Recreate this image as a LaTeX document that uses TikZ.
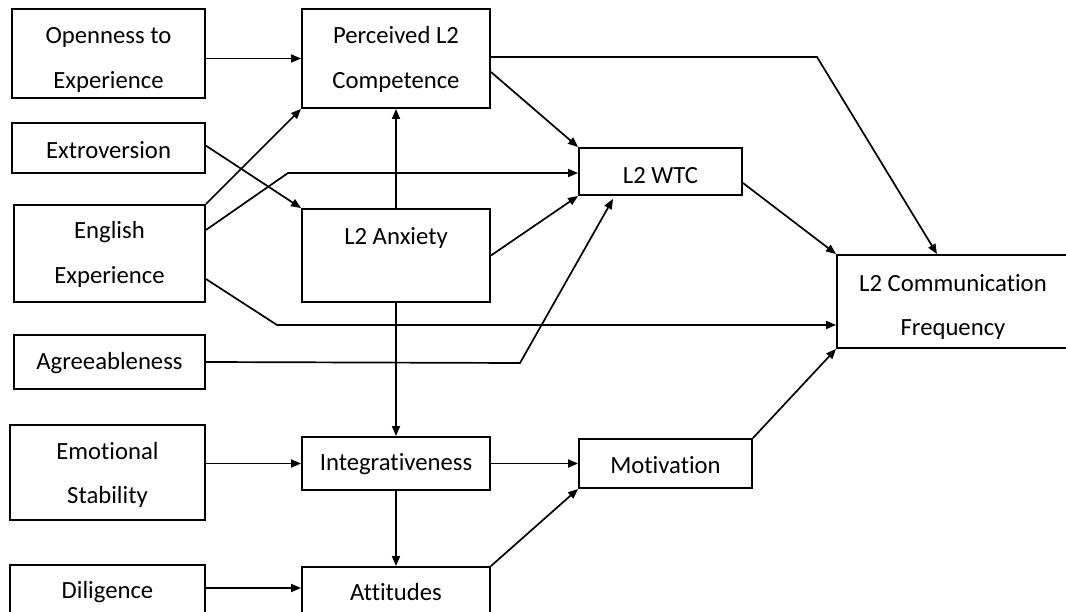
\documentclass[tikz,border=0pt]{standalone}
\usepackage{fontspec}
\setmainfont{Carlito}[Ligatures=CommonOff]
\usetikzlibrary{arrows.meta}
\begin{document}
\begin{tikzpicture}[x=1pt,y=-1pt,
  box/.style={draw, line width=1.9pt, inner sep=0pt, align=center,
    font=\fontsize{24.7}{44.5}\selectfont, text depth=5pt},
  arr/.style={line width=1.7pt, -{Triangle[length=10pt,width=8pt]}}]
\useasboundingbox (0,0) rectangle (1066,612);
\clip (0,0) rectangle (1066,612);
\fill[white] (0,0) rectangle (1066,612);

% left column: personality and experience variables
\node[box, minimum width=193pt, minimum height=89pt, text height=75pt] (open)  at (108.5,53.5) {Openness to\\Experience};
\node[box, minimum width=193pt, minimum height=50pt, text height=26pt] (extro) at (108.5,148)  {Extroversion};
\node[box, minimum width=191pt, minimum height=97pt, text height=65pt] (eng)   at (109.5,253.5) {English\\Experience};
\node[box, minimum width=191pt, minimum height=54pt, text height=20pt] (agree) at (109.5,362)  {Agreeableness};
\node[box, minimum width=195pt, minimum height=95pt, text height=67pt] (emo)   at (107.5,472.5) {Emotional\\Stability};
\node[box, minimum width=195pt, minimum height=55pt, text height=17pt] (dili)  at (107.5,592.5) {Diligence};

% middle column
\node[box, minimum width=188pt, minimum height=99pt, text height=65pt] (perc)  at (396,58.5)  {Perceived L2\\Competence};
\node[box, minimum width=188pt, minimum height=93pt, text height=5pt, text depth=26pt] (anx) at (396,255.5) {L2 Anxiety};
\node[box, minimum width=188pt, minimum height=53pt, text height=19pt] (integ) at (396,463.5) {Integrativeness};
\node[box, minimum width=188pt, minimum height=53pt, text height=19pt] (att)   at (396,593.5) {Attitudes};

% right part
\node[box, minimum width=163pt, minimum height=47pt, text height=29pt] (wtc)   at (660.5,171.5) {L2 WTC};
\node[box, minimum width=173pt, minimum height=49pt, text height=25pt] (mot)   at (665.5,463.5) {Motivation};
\node[box, minimum width=232pt, minimum height=93pt, text height=74pt] (comm)  at (953,301.5)  {L2 Communication\\Frequency};

% bend points of the routed paths
\coordinate (b1) at (288,173);
\coordinate (b2) at (277,325);
\coordinate (b3) at (817,57);
\coordinate (b4) at (520,363);

% paths
\draw[arr] (open.east |- perc.west) -- (perc.west);
\draw[arr] ([yshift=2.3pt]extro.east) -- (anx.north west);
\draw[arr] (eng.north east) -- (perc.south west);
\draw[arr] ([yshift=23.5pt]eng.east) -- (b1) -- (b1 -| wtc.west);
\draw[arr] ([yshift=-25.5pt]eng.east) -- (b2) -- (b2 -| comm.west);
\draw[arr] (anx.north) -- (perc.south);
\draw[arr] (anx.east) -- (wtc.south west);
\draw[arr] ([yshift=-13.5pt]perc.east) -- (wtc.north west);
\draw[arr] ([yshift=1.5pt]perc.east) -- (b3) -- ([xshift=-16pt]comm.north);
\draw[arr] ([yshift=-11.5pt]wtc.east) -- (comm.north west);
\draw[arr] (agree.east) -- (b4) -- ([xshift=-47.5pt,yshift=-3pt]wtc.south);
\draw[arr] (anx.south) -- (integ.north);
\draw[arr] (emo.east |- integ.west) -- (integ.west);
\draw[arr] (integ.east) -- (mot.west);
\draw[arr] (integ.south) -- (att.north);
\draw[arr] ([yshift=4.5pt]dili.east) -- ([yshift=5.5pt]att.west);
\draw[arr] (att.north east) -- (mot.south west);
\draw[arr] (mot.north east) -- (comm.south west);
\end{tikzpicture}
\end{document}
